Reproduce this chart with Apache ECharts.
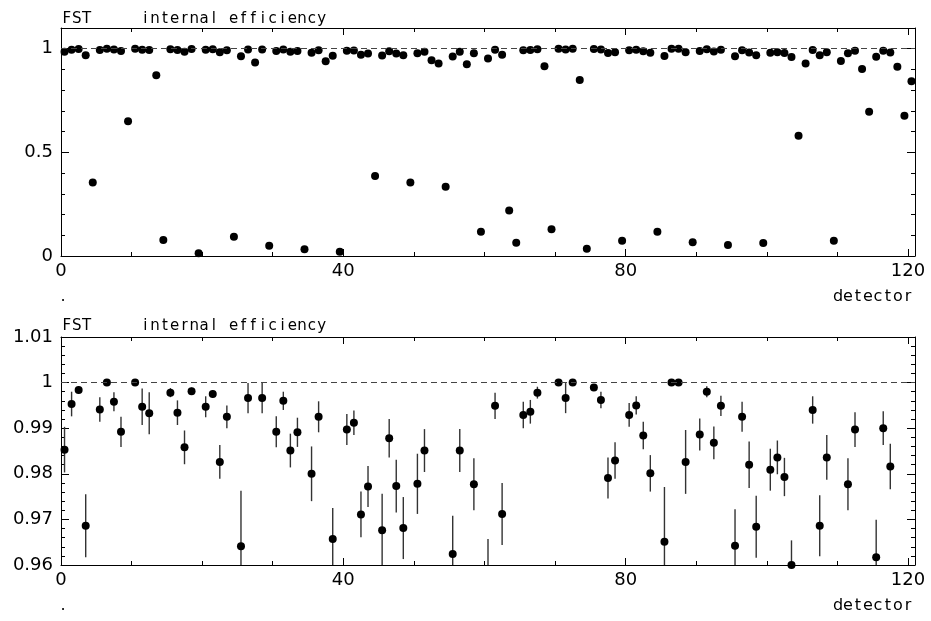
<!DOCTYPE html>
<html><head><meta charset="utf-8">
<script src="https://cdn.jsdelivr.net/npm/echarts@6/dist/echarts.min.js"></script>
<style>html,body{margin:0;padding:0;background:#fff}#c{width:931px;height:621px}</style>
</head><body><div id="c"></div>
<script>
// ---- data ----
const detector = Array.from({length: 121}, (_, i) => i);
const efficiency = [
  0.9853, 0.9953, 0.9984, 0.9686, 0.355, 0.9941, 1.0000, 0.9958, 0.9892, 0.650,
  1.0000, 0.9947, 0.9933, 0.872, 0.077, 0.9978, 0.9934, 0.9858, 0.9981, 0.013,
  0.9947, 0.9975, 0.9826, 0.9925, 0.093, 0.9641, 0.9966, 0.934, 0.9966, 0.050,
  0.9892, 0.9960, 0.9851, 0.9891, 0.032, 0.9800, 0.9925, 0.940, 0.9657, 0.020,
  0.9897, 0.9912, 0.9711, 0.9772, 0.386, 0.9676, 0.9878, 0.9773, 0.9681, 0.355,
  0.9778, 0.9851, 0.945, 0.929, 0.334, 0.9624, 0.9851, 0.925, 0.9777, 0.117,
  0.9534, 0.9949, 0.9712, 0.219, 0.064, 0.9929, 0.9936, 0.9978, 0.915, 0.129,
  1.0000, 0.9966, 1.0000, 0.849, 0.035, 0.9989, 0.9962, 0.9791, 0.9829, 0.074,
  0.9929, 0.9950, 0.9884, 0.9801, 0.117, 0.9651, 1.0000, 1.0000, 0.9826, 0.066,
  0.9886, 0.9980, 0.9868, 0.9949, 0.053, 0.9642, 0.9925, 0.9820, 0.9684, 0.063,
  0.9809, 0.9836, 0.9793, 0.9600, 0.580, 0.929, 0.9940, 0.9686, 0.9836, 0.074,
  0.941, 0.9777, 0.9897, 0.902, 0.696, 0.9617, 0.9900, 0.9816, 0.913, 0.677,
  0.843
];
const efficiencyError = [
  0.0050, 0.0027, 0.0008, 0.0069, 0, 0.0027, 0.0003, 0.0021, 0.0033, 0,
  0.0003, 0.0040, 0.0046, 0, 0, 0.0010, 0.0027, 0.0037, 0.0008, 0,
  0.0023, 0.0008, 0.0037, 0.0025, 0, 0.0122, 0.0033, 0, 0.0033, 0,
  0.0034, 0.0020, 0.0037, 0.0032, 0, 0.0060, 0.0034, 0, 0.0068, 0,
  0.0034, 0.0027, 0.0050, 0.0045, 0, 0.0080, 0.0042, 0.0058, 0.0068, 0,
  0.0066, 0.0047, 0, 0, 0, 0.0084, 0.0047, 0, 0.0057, 0,
  0.0123, 0.0029, 0.0068, 0, 0, 0.0029, 0.0026, 0.0013, 0, 0,
  0.0003, 0.0033, 0.0003, 0, 0, 0.0006, 0.0018, 0.0045, 0.0040, 0,
  0.0026, 0.0020, 0.0030, 0.0040, 0, 0.0120, 0.0003, 0.0003, 0.0070, 0,
  0.0035, 0.0012, 0.0036, 0.0022, 0, 0.0080, 0.0033, 0.0051, 0.0068, 0,
  0.0046, 0.0037, 0.0042, 0.0054, 0, 0, 0.0030, 0.0067, 0.0049, 0,
  0, 0.0057, 0.0038, 0, 0, 0.0082, 0.0037, 0.0050, 0, 0,
  0
];
const xTickValues = [0, 40, 80, 120];
const xTickLabels = ['0', '40', '80', '120'];
const yTickValuesTop = [0, 0.5, 1];
const yTickLabelsTop = ['0', '0.5', '1'];
const yTickValuesBottom = [0.96, 0.97, 0.98, 0.99, 1, 1.01];
const yTickLabelsBottom = ['0.96', '0.97', '0.98', '0.99', '1', '1.01'];
const titleText = 'FST     internal efficiency';
const xAxisName = 'detector';
const referenceLevel = 1;

// ---- layout / style ----
const FONT = "'DejaVu Sans', 'Liberation Sans', sans-serif";
const panels = [
  {top: 28, yMin: 0, yMax: 1.1, minor: 0.1, major: 0.5, ticks: yTickValuesTop, labels: yTickLabelsTop,
   titleY: 18.7, nameY: 297},
  {top: 337, yMin: 0.96, yMax: 1.01, minor: 0.002, major: 0.01, ticks: yTickValuesBottom, labels: yTickLabelsBottom,
   titleY: 326.2, nameY: 606}
];
const GRID_H = 228, GRID_L = 61, GRID_R = 16;

function pick(v, vals, labs) {
  for (let k = 0; k < vals.length; k++) if (Math.abs(v - vals[k]) < 1e-7) return labs[k];
  return '';
}

const grid = [], xAxis = [], yAxis = [], series = [], graphic = [];
const lineCol = '#000';

function monoText(str, x0, yMid, cell, size) {
  const out = [];
  for (let k = 0; k < str.length; k++) {
    const c = str[k];
    if (c === ' ') continue;
    out.push({type: 'text', x: x0 + k * cell + cell / 2, y: yMid, silent: true,
      style: {text: c, fill: '#000', font: size + 'px ' + FONT, textAlign: 'center', textVerticalAlign: 'middle'}});
  }
  return out;
}

panels.forEach((p, gi) => {
  grid.push({left: GRID_L, right: GRID_R, top: p.top, height: GRID_H, containLabel: false});
  const xi = xAxis.length, yi = yAxis.length;
  ['bottom', 'top'].forEach((pos) => {
    xAxis.push({gridIndex: gi, type: 'value', position: pos, min: 0, max: 121, interval: 10,
      axisLine: {show: true, onZero: false, lineStyle: {color: lineCol, width: 1}},
      axisTick: {show: true, inside: true, length: 4, lineStyle: {color: lineCol, width: 1}},
      axisLabel: {show: pos === 'bottom', margin: 6, color: '#000', fontFamily: FONT, fontSize: 18,
        formatter: v => pick(v, xTickValues, xTickLabels)},
      splitLine: {show: false}});
    xAxis.push({gridIndex: gi, type: 'value', position: pos, min: 0, max: 121, interval: 40,
      axisLine: {show: false, onZero: false},
      axisTick: {show: true, inside: true, length: 7, lineStyle: {color: lineCol, width: 1}},
      axisLabel: {show: false}, splitLine: {show: false}});
  });
  ['left', 'right'].forEach((pos) => {
    yAxis.push({gridIndex: gi, type: 'value', position: pos, min: p.yMin, max: p.yMax, interval: p.minor,
      axisLine: {show: true, onZero: false, lineStyle: {color: lineCol, width: 1}},
      axisTick: {show: true, inside: true, length: 4, lineStyle: {color: lineCol, width: 1}},
      axisLabel: {show: pos === 'left', margin: 8, color: '#000', fontFamily: FONT, fontSize: 18,
        formatter: v => pick(v, p.ticks, p.labels)},
      splitLine: {show: false}});
    yAxis.push({gridIndex: gi, type: 'value', position: pos, min: p.yMin, max: p.yMax, interval: p.major,
      axisLine: {show: false, onZero: false},
      axisTick: {show: true, inside: true, length: 8, lineStyle: {color: lineCol, width: 1}},
      axisLabel: {show: false}, splitLine: {show: false}});
  });

  series.push({
    type: 'custom', xAxisIndex: xi, yAxisIndex: yi, z: 2, silent: true,
    data: detector.map((d, k) => [d + 0.5, efficiency[k], efficiencyError[k]]),
    encode: {x: 0, y: 1},
    renderItem: (params, api) => {
      const x = api.value(0), y = api.value(1), e = api.value(2);
      if (!e) return null;
      const lo = Math.max(y - e, p.yMin), hi = Math.min(y + e, p.yMax);
      if (hi <= lo) return null;
      const a = api.coord([x, lo]), b = api.coord([x, hi]);
      return {type: 'line', shape: {x1: a[0], y1: a[1], x2: b[0], y2: b[1]},
        style: {stroke: '#333', lineWidth: 1.4}};
    }
  });
  series.push({
    type: 'scatter', xAxisIndex: xi, yAxisIndex: yi, z: 3, silent: true,
    symbol: 'circle', symbolSize: 8, itemStyle: {color: '#000', opacity: 1},
    data: detector.map((d, k) => [d + 0.5, efficiency[k]]),
    markLine: {silent: true, symbol: 'none', label: {show: false},
      lineStyle: {color: '#444', width: 1, type: [6, 4]},
      data: [{yAxis: referenceLevel}]}
  });

  graphic.push(...monoText(titleText, 62, p.titleY, 9.8, 15));
  graphic.push(...monoText(xAxisName, 833, p.nameY, 10, 16));
  graphic.push({type: 'text', x: 63, y: p.nameY, silent: true,
    style: {text: '.', fill: '#000', font: '16px ' + FONT, textAlign: 'center', textVerticalAlign: 'middle'}});
});

const chart = echarts.init(document.getElementById('c'), null, {renderer: 'canvas'});
chart.setOption({animation: false, backgroundColor: '#fff', grid, xAxis, yAxis, series, graphic});
</script></body></html>
